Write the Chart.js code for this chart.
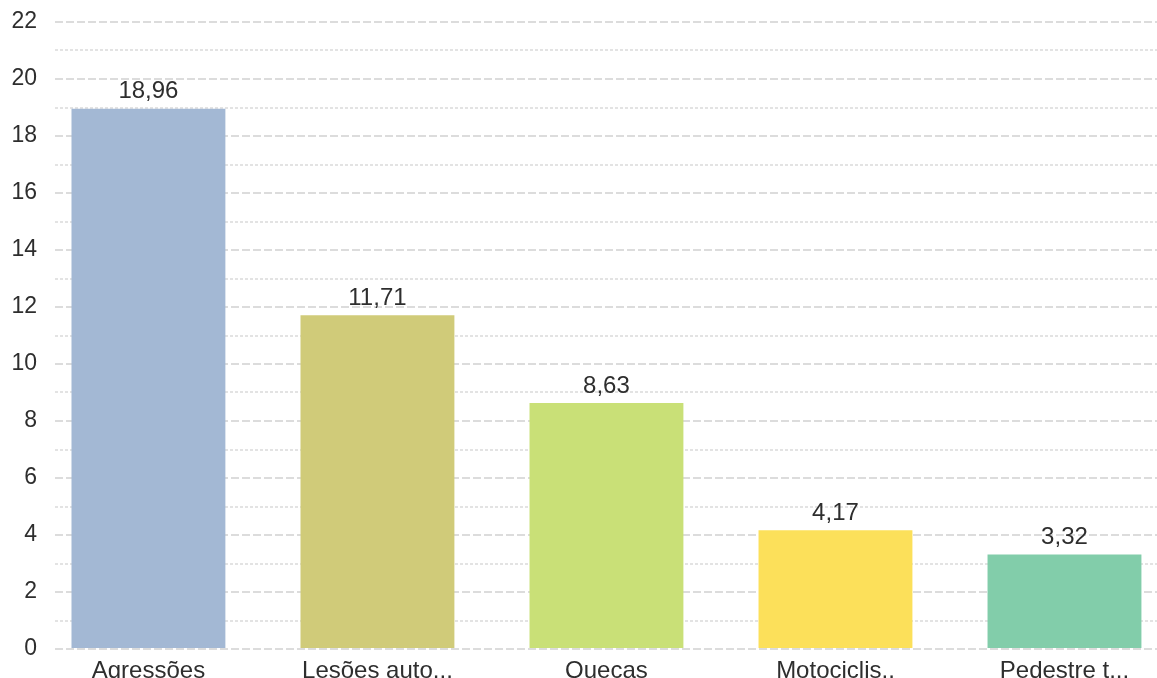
<!DOCTYPE html>
<html>
<head>
<meta charset="utf-8">
<script src="https://cdn.jsdelivr.net/npm/chart.js@4"></script>
<style>
    html, body { margin: 0; padding: 0; background: #fff; overflow: hidden; }
    #wrap { width: 1157px; height: 678px; }
</style>
</head>
<body>
<div id="wrap"><canvas id="chart"></canvas></div>
<script>
// data
const categories = ["Agressões", "Lesões auto...", "Quecas", "Motociclis..", "Pedestre t..."];
const values = [18.96, 11.71, 8.63, 4.17, 3.32];
const barColors = ["#a3b8d4", "#d0cb79", "#c9e077", "#fce05a", "#82cdaa"];
const yTicks = [0, 2, 4, 6, 8, 10, 12, 14, 16, 18, 20, 22];

const FONT = "'Liberation Sans', Arial, sans-serif";
const TEXT = "#2e2e2e";

function formatValue(v) {
    return v.toFixed(2).replace(".", ",");
}

// value labels above each bar
const valueLabels = {
    id: "valueLabels",
    afterDatasetsDraw(chart) {
        const ctx = chart.ctx;
        const meta = chart.getDatasetMeta(0);
        ctx.save();
        ctx.font = "24px " + FONT;
        ctx.fillStyle = TEXT;
        ctx.textAlign = "center";
        ctx.textBaseline = "bottom";
        meta.data.forEach((bar, i) => {
            ctx.fillText(formatValue(values[i]), bar.x, bar.y - 5);
        });
        ctx.restore();
    },
};

var points = [];
for (let i = 0; i < values.length; i++) {
    points.push({ x: i, y: values[i] });
}

const ctx = document.getElementById("chart");
const chart = new Chart(ctx, {
    type: "bar",
    data: {
        datasets: [
            {
                data: points,
                backgroundColor: barColors,
                borderWidth: 0,
                categoryPercentage: 1,
                barPercentage: 0.672,
            },
        ],
    },
    options: {
        responsive: true,
        maintainAspectRatio: false,
        animation: false,
        layout: { padding: { top: 22, right: 0, left: 0, bottom: 0 } },
        plugins: {
            legend: { display: false },
            tooltip: { enabled: false },
        },
        scales: {
            x: {
                type: "linear",
                offset: false,
                min: -0.408,
                max: 4.404,
                grid: { display: false },
                border: { display: false },
                afterBuildTicks(scale) {
                    scale.ticks = categories.map((c, i) => ({ value: i }));
                },
                afterFit(scale) {
                    scale.height = 29;
                    scale.paddingTop = 0;
                    scale.paddingBottom = 0;
                },
                ticks: {
                    padding: 0,
                    autoSkip: false,
                    maxRotation: 0,
                    color: TEXT,
                    font: { family: FONT, size: 24 },
                    callback: (v) => categories[v],
                },
            },
            y: {
                min: 0,
                max: 22,
                z: 1,
                afterBuildTicks(scale) {
                    scale.ticks = yTicks.map((v) => ({ value: v }));
                },
                afterFit(scale) {
                    scale.width = 55;
                    scale.paddingTop = 0;
                    scale.paddingBottom = 0;
                },
                border: { display: false, dash: [8, 3] },
                grid: {
                    color: "rgba(128,128,128,0.28)",
                    lineWidth: 2,
                    drawTicks: false,
                },
                ticks: {
                    padding: 18,
                    color: TEXT,
                    font: { family: FONT, size: 23 },
                },
            },
            // minor dotted lines at the odd values
            y2: {
                position: "left",
                min: 0,
                max: 22,
                z: 1,
                display: true,
                afterBuildTicks(scale) {
                    var t = [];
                    for (let v = 1; v < 22; v += 2) t.push({ value: v });
                    scale.ticks = t;
                },
                afterFit(scale) {
                    scale.width = 0;
                    scale.paddingTop = 0;
                    scale.paddingBottom = 0;
                },
                border: { display: false, dash: [3, 2] },
                grid: {
                    color: "rgba(128,128,128,0.22)",
                    lineWidth: 2,
                    drawTicks: false,
                },
                ticks: { display: false },
            },
        },
    },
    plugins: [valueLabels],
});
</script>
</body>
</html>
